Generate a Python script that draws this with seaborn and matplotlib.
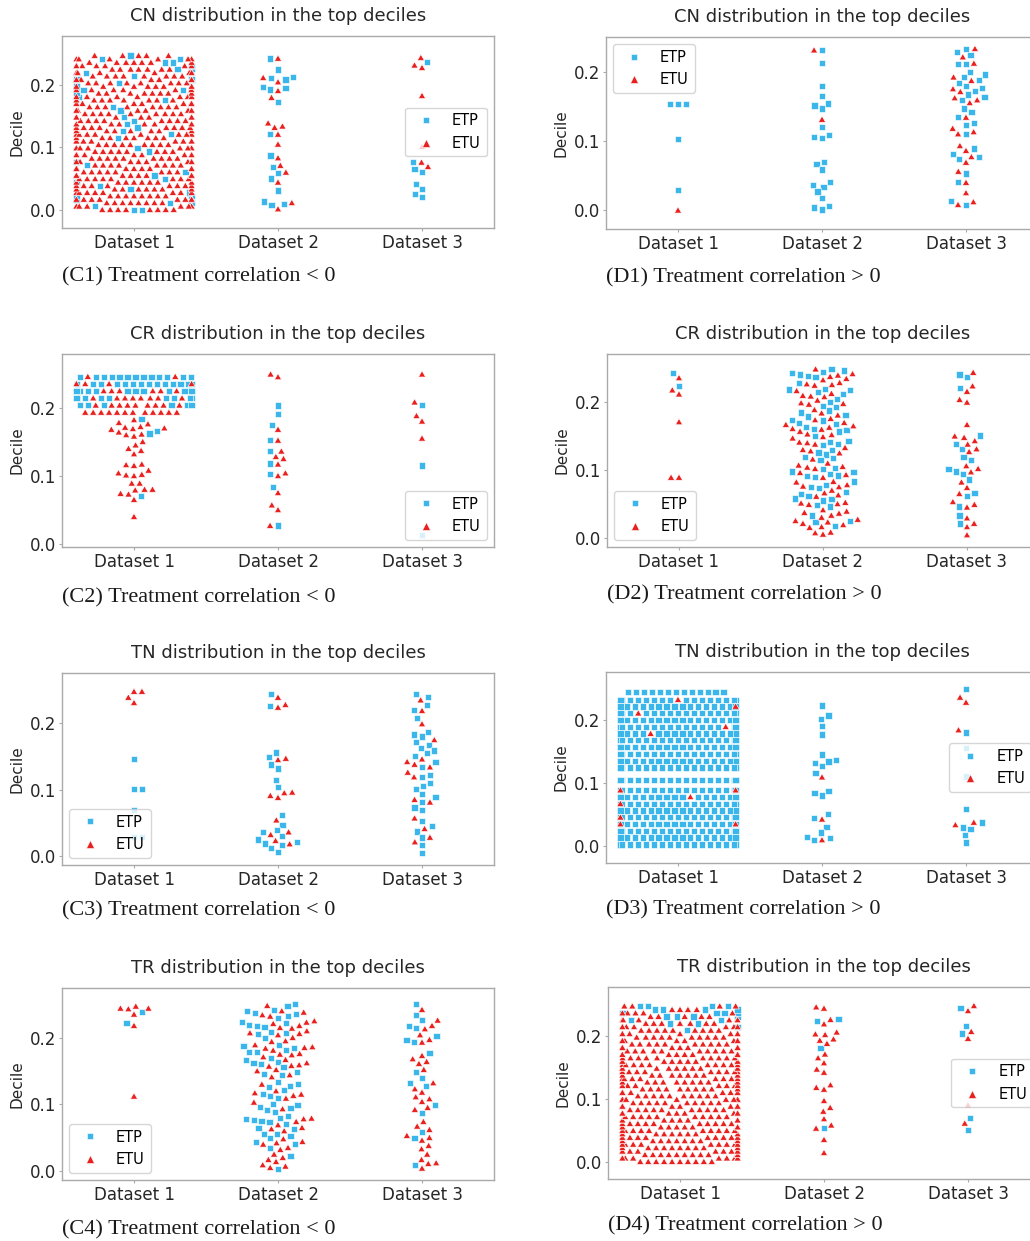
import warnings

import numpy as np
import pandas as pd
import matplotlib
matplotlib.use("Agg")
import matplotlib.pyplot as plt
from matplotlib.path import Path
from matplotlib.lines import Line2D
import seaborn as sns

warnings.filterwarnings("ignore")  # swarm overflow warnings for the dense groups

W, H = 1030, 1241
ETP_COLOR = "#3bb6ea"
ETU_COLOR = "#e8201e"
SPINE = "#a9a9a9"
TEXT = "#262626"
DATASETS = ["Dataset 1", "Dataset 2", "Dataset 3"]
TYPES = ["ETP", "ETU"]

# ---------------------------------------------------------------- data
# dense swarms are read as rows of points (level + count per row)
fine_levels = [0.0, 0.0055, 0.011, 0.0165, 0.022, 0.0275, 0.033, 0.0385, 0.044, 0.0495, 0.055,
               0.0605, 0.066, 0.0715, 0.077, 0.0825, 0.088, 0.0935, 0.099, 0.1045, 0.11, 0.1155,
               0.121, 0.1265, 0.132, 0.1375, 0.143, 0.1485, 0.154, 0.1595, 0.165, 0.1705, 0.176,
               0.1815, 0.187, 0.1925, 0.198, 0.2035, 0.209, 0.2145, 0.22, 0.2255, 0.231, 0.2365,
               0.242, 0.2475]

# (C1) CN, treatment correlation < 0
c1_ds1_etp_counts = [2, 1, 2, 1, 2, 1, 1, 1, 1, 1, 1, 1, 0, 1, 1, 0, 0, 1, 1, 0, 0, 1, 1, 1, 1,
                     1, 1, 1, 0, 1, 1, 0, 1, 1, 1, 2, 1, 1, 2, 1, 1, 2, 1, 2, 2, 1]
c1_ds1_etu_counts = [8, 8, 8, 8, 8, 8, 8, 8, 8, 8, 8, 8, 9, 8, 8, 9, 9, 8, 8, 9, 9, 8, 8, 8, 8,
                     8, 8, 8, 9, 8, 8, 9, 8, 8, 8, 7, 8, 8, 7, 8, 8, 7, 7, 7, 6, 5]
c1_ds2_etp = [0.243, 0.225, 0.209, 0.211, 0.213, 0.197, 0.193, 0.195, 0.173, 0.122, 0.087, 0.068,
              0.059, 0.050, 0.031, 0.013, 0.008, 0.009]
c1_ds2_etu = [0.243, 0.212, 0.205, 0.191, 0.180, 0.139, 0.132, 0.134, 0.121, 0.105, 0.083, 0.071,
              0.060, 0.044, 0.011, 0.001]
c1_ds3_etp = [0.237, 0.077, 0.065, 0.061, 0.041, 0.033, 0.025, 0.020]
c1_ds3_etu = [0.244, 0.232, 0.228, 0.183, 0.101, 0.076, 0.069]

# (D1) CN, treatment correlation > 0
d1_ds1_etp = [0.153, 0.153, 0.153, 0.103, 0.029]
d1_ds1_etu = [0.000]
d1_ds2_etp = [0.231, 0.213, 0.179, 0.165, 0.151, 0.147, 0.154, 0.120, 0.106, 0.104, 0.109, 0.070,
              0.067, 0.059, 0.041, 0.034, 0.027, 0.036, 0.018, 0.004, 0.001, 0.006]
d1_ds2_etu = [0.231, 0.131]
d1_ds3_etp = [0.233, 0.228, 0.224, 0.211, 0.211, 0.200, 0.196, 0.192, 0.184, 0.188, 0.179, 0.176,
              0.172, 0.167, 0.163, 0.159, 0.147, 0.142, 0.135, 0.126, 0.123, 0.110, 0.089, 0.081,
              0.077, 0.074, 0.053, 0.041, 0.013, 0.008]
d1_ds3_etu = [0.233, 0.221, 0.212, 0.192, 0.187, 0.175, 0.171, 0.162, 0.159, 0.155, 0.134, 0.118,
              0.113, 0.110, 0.093, 0.086, 0.077, 0.069, 0.056, 0.040, 0.025, 0.012, 0.008]

# (C2) CR, treatment correlation < 0
c2_band_levels = [0.193, 0.2035, 0.214, 0.2245, 0.235, 0.2455]
c2_ds1_etp_counts = [0, 6, 9, 12, 14, 13]
c2_ds1_etu_counts = [12, 9, 8, 6, 4, 2]
c2_ds1_etp_tail = [0.183, 0.166, 0.162, 0.070]
c2_ds1_etu_tail = [0.182, 0.178, 0.176, 0.171, 0.168, 0.170, 0.169, 0.172, 0.160, 0.158, 0.161, 0.164,
                   0.145, 0.150, 0.137, 0.140, 0.132, 0.115, 0.117, 0.116, 0.108, 0.104, 0.100, 0.101,
                   0.102, 0.089, 0.089, 0.080, 0.079, 0.080, 0.074, 0.073, 0.065, 0.040]
c2_ds2_etp = [0.203, 0.191, 0.175, 0.153, 0.136, 0.118, 0.103, 0.084, 0.027]
c2_ds2_etu = [0.249, 0.245, 0.168, 0.152, 0.136, 0.128, 0.125, 0.117, 0.104, 0.100, 0.075, 0.057,
              0.050, 0.027]
c2_ds3_etp = [0.204, 0.115, 0.013]
c2_ds3_etu = [0.249, 0.208, 0.188, 0.180, 0.155]

# (D2) CR, treatment correlation > 0
d2_ds1_etp = [0.243, 0.224]
d2_ds1_etu = [0.236, 0.218, 0.212, 0.171, 0.089, 0.089]
d2_ds2_etp = [0.247, 0.245, 0.249, 0.239, 0.241, 0.237, 0.243, 0.229, 0.212, 0.218, 0.220, 0.215,
              0.219, 0.200, 0.195, 0.205, 0.193, 0.188, 0.185, 0.181, 0.174, 0.173, 0.170, 0.179,
              0.168, 0.164, 0.161, 0.157, 0.159, 0.150, 0.143, 0.138, 0.141, 0.137, 0.130, 0.123,
              0.118, 0.126, 0.119, 0.115, 0.103, 0.098, 0.101, 0.097, 0.094, 0.092, 0.091, 0.090,
              0.083, 0.075, 0.074, 0.078, 0.067, 0.065, 0.055, 0.062, 0.058, 0.057, 0.046, 0.048,
              0.033, 0.025, 0.023, 0.017]
d2_ds2_etu = [0.242, 0.249, 0.240, 0.238, 0.235, 0.233, 0.226, 0.229, 0.225, 0.217, 0.213, 0.210,
              0.227, 0.209, 0.208, 0.197, 0.199, 0.198, 0.203, 0.184, 0.176, 0.170, 0.174, 0.189,
              0.181, 0.161, 0.160, 0.163, 0.167, 0.165, 0.157, 0.152, 0.147, 0.149, 0.141, 0.138,
              0.140, 0.153, 0.133, 0.128, 0.130, 0.125, 0.116, 0.107, 0.110, 0.104, 0.105, 0.102,
              0.096, 0.093, 0.089, 0.078, 0.083, 0.082, 0.075, 0.070, 0.076, 0.061, 0.066, 0.063,
              0.052, 0.051, 0.049, 0.050, 0.041, 0.039, 0.037, 0.033, 0.036, 0.019, 0.025, 0.021,
              0.027, 0.023, 0.030, 0.015, 0.016, 0.005, 0.007, 0.008]
d2_ds3_etp = [0.241, 0.237, 0.221, 0.151, 0.139, 0.131, 0.115, 0.119, 0.102, 0.094, 0.098, 0.086,
              0.066, 0.062, 0.046, 0.033, 0.021]
d2_ds3_etu = [0.244, 0.224, 0.216, 0.204, 0.200, 0.167, 0.148, 0.150, 0.138, 0.143, 0.131, 0.127,
              0.106, 0.102, 0.097, 0.082, 0.074, 0.065, 0.053, 0.049, 0.045, 0.029, 0.021, 0.016,
              0.004]

# (C3) TN, treatment correlation < 0
c3_ds1_etp = [0.146, 0.101, 0.101, 0.069, 0.029, 0.029]
c3_ds1_etu = [0.248, 0.248, 0.239, 0.231]
c3_ds2_etp = [0.244, 0.226, 0.156, 0.149, 0.138, 0.132, 0.115, 0.104, 0.062, 0.047, 0.039, 0.036,
              0.030, 0.025, 0.019, 0.021, 0.016, 0.012, 0.006]
c3_ds2_etu = [0.239, 0.224, 0.228, 0.147, 0.145, 0.096, 0.091, 0.088, 0.095, 0.054, 0.036, 0.032,
              0.023, 0.018]
c3_ds3_etp = [0.240, 0.244, 0.228, 0.220, 0.208, 0.187, 0.183, 0.180, 0.172, 0.167, 0.163, 0.159,
              0.155, 0.151, 0.142, 0.134, 0.122, 0.119, 0.110, 0.106, 0.101, 0.094, 0.089, 0.081,
              0.073, 0.069, 0.053, 0.045, 0.037, 0.028, 0.016, 0.004]
c3_ds3_etu = [0.235, 0.219, 0.199, 0.175, 0.146, 0.142, 0.138, 0.134, 0.126, 0.119, 0.085, 0.081,
              0.057, 0.041, 0.028, 0.021]

# (D3) TN, treatment correlation > 0
d3_levels = [0.002, 0.0128, 0.0236, 0.0344, 0.0452, 0.056, 0.0668, 0.0776, 0.0884, 0.1046, 0.1244,
             0.1352, 0.146, 0.1568, 0.1676, 0.1784, 0.1892, 0.200, 0.2108, 0.2216, 0.2324, 0.244]
d3_ds1_etp_counts = [18, 18, 18, 17, 18, 18, 18, 17, 17, 20, 18, 18, 18, 18, 18, 17, 17, 18, 17,
                     17, 16, 13]
d3_ds1_etu = [0.2324, 0.2216, 0.2108, 0.1892, 0.1784, 0.0884, 0.0884, 0.0776, 0.0668, 0.0452,
              0.0344, 0.0344]
d3_ds2_etp = [0.223, 0.207, 0.202, 0.190, 0.177, 0.145, 0.132, 0.134, 0.136, 0.127, 0.116, 0.084,
              0.087, 0.080, 0.050, 0.044, 0.030, 0.021, 0.014, 0.009, 0.012]
d3_ds2_etu = [0.109, 0.042, 0.009]
d3_ds3_etp = [0.249, 0.180, 0.156, 0.110, 0.058, 0.037, 0.026, 0.029, 0.017, 0.005]
d3_ds3_etu = [0.236, 0.228, 0.184, 0.033, 0.037]

# (C4) TR, treatment correlation < 0
c4_ds1_etp = [0.238, 0.222]
c4_ds1_etu = [0.244, 0.247, 0.243, 0.244, 0.235, 0.218, 0.112]
c4_ds2_etp = [0.250, 0.248, 0.240, 0.242, 0.237, 0.233, 0.230, 0.235, 0.224, 0.216, 0.217, 0.219,
              0.222, 0.200, 0.205, 0.207, 0.209, 0.187, 0.182, 0.179, 0.189, 0.185, 0.178, 0.169,
              0.166, 0.160, 0.164, 0.162, 0.156, 0.148, 0.145, 0.144, 0.134, 0.128, 0.121, 0.126,
              0.130, 0.115, 0.109, 0.112, 0.099, 0.100, 0.094, 0.096, 0.089, 0.091, 0.080, 0.078,
              0.071, 0.074, 0.075, 0.077, 0.083, 0.064, 0.063, 0.053, 0.056, 0.055, 0.049, 0.044,
              0.041, 0.035, 0.023, 0.003]
c4_ds2_etu = [0.248, 0.240, 0.234, 0.232, 0.238, 0.223, 0.218, 0.221, 0.225, 0.215, 0.214, 0.207,
              0.206, 0.204, 0.210, 0.195, 0.200, 0.194, 0.189, 0.186, 0.184, 0.185, 0.181, 0.175,
              0.174, 0.176, 0.171, 0.167, 0.159, 0.157, 0.158, 0.162, 0.150, 0.152, 0.144, 0.141,
              0.130, 0.120, 0.117, 0.115, 0.113, 0.109, 0.103, 0.093, 0.078, 0.079, 0.074, 0.069,
              0.060, 0.065, 0.063, 0.044, 0.042, 0.048, 0.040, 0.035, 0.032, 0.025, 0.020, 0.017,
              0.014, 0.009, 0.005, 0.007]
c4_ds3_etp = [0.250, 0.234, 0.226, 0.218, 0.214, 0.202, 0.197, 0.193, 0.177, 0.148, 0.140, 0.132,
              0.128, 0.099, 0.087, 0.058, 0.050, 0.009]
c4_ds3_etu = [0.242, 0.226, 0.218, 0.213, 0.204, 0.197, 0.193, 0.173, 0.168, 0.164, 0.161, 0.152,
              0.132, 0.123, 0.118, 0.111, 0.108, 0.104, 0.095, 0.092, 0.074, 0.067, 0.062, 0.053,
              0.050, 0.046, 0.038, 0.033, 0.025, 0.017, 0.012, 0.011, 0.004]

# (D4) TR, treatment correlation > 0
d4_ds1_etp_counts = [0, 0, 0, 0, 0, 0, 0, 0, 0, 0, 0, 0, 0, 0, 0, 0, 0, 0, 0, 0, 0, 0, 0, 0, 0,
                     0, 0, 0, 0, 0, 0, 0, 0, 0, 0, 0, 0, 0, 1, 1, 2, 2, 4, 4, 4, 4]
d4_ds1_etu_counts = [10, 10, 10, 10, 10, 10, 10, 10, 10, 10, 10, 10, 10, 10, 10, 10, 10, 10, 10,
                     10, 10, 10, 10, 10, 10, 10, 10, 10, 10, 10, 10, 10, 10, 10, 10, 10, 10, 10,
                     9, 8, 7, 7, 5, 5, 4, 4]
d4_ds2_etp = [0.224, 0.227, 0.181, 0.053]
d4_ds2_etu = [0.246, 0.244, 0.226, 0.219, 0.206, 0.202, 0.203, 0.195, 0.193, 0.188, 0.171, 0.165,
              0.157, 0.147, 0.142, 0.122, 0.118, 0.115, 0.097, 0.086, 0.080, 0.068, 0.053, 0.058,
              0.035, 0.014]
d4_ds3_etp = [0.244, 0.216, 0.204, 0.070, 0.050]
d4_ds3_etu = [0.240, 0.248, 0.207, 0.196, 0.090, 0.061]


def rows_of(levels, counts):
    return list(np.repeat(levels, counts))


def make_frame(groups):
    recs = []
    for ds, etp, etu in zip(DATASETS, groups[0::2], groups[1::2]):
        recs += [(ds, "ETP", v) for v in etp]
        recs += [(ds, "ETU", v) for v in etu]
    return pd.DataFrame(recs, columns=["dataset", "type", "decile"])


# marker shapes (path units are scaled by the swarm marker size)
SQUARE = Path([(-0.45, -0.45), (0.45, -0.45), (0.45, 0.45), (-0.45, 0.45), (-0.45, -0.45)],
              [Path.MOVETO, Path.LINETO, Path.LINETO, Path.LINETO, Path.CLOSEPOLY])
TRIANGLE = Path([(0.0, 0.50), (-0.52, -0.40), (0.52, -0.40), (0.0, 0.50)],
                [Path.MOVETO, Path.LINETO, Path.LINETO, Path.CLOSEPOLY])

fig = plt.figure(figsize=(W / 100, H / 100), dpi=100)


def draw_panel(left, top, bottom, title, caption, cap_y, groups, ylim, loc):
    width = 432
    ax = fig.add_axes([left / W, 1 - bottom / H, width / W, (bottom - top) / H])
    df = make_frame(groups)
    sns.swarmplot(data=df, x="dataset", y="decile", hue="type", order=DATASETS, hue_order=TYPES,
                  palette={"ETP": ETP_COLOR, "ETU": ETU_COLOR}, size=5, linewidth=0.45,
                  edgecolor="white", legend=False, ax=ax)
    # swap the round markers for squares (ETP) and triangles (ETU)
    for coll in ax.collections:
        fc = coll.get_facecolors()
        coll.set_paths([TRIANGLE if c[0] > 0.6 else SQUARE for c in fc])

    ax.set_ylim(*ylim)
    ax.set_yticks([0.0, 0.1, 0.2])
    ax.set_yticklabels(["0.0", "0.1", "0.2"])
    ax.set_xlabel("")
    ax.set_ylabel("Decile", fontsize=11, color=TEXT, labelpad=4)
    ax.set_title(title, fontsize=13, color=TEXT, pad=10.5)
    ax.tick_params(colors=SPINE, labelcolor=TEXT, labelsize=12, length=2.5, width=0.8, pad=1.8)
    for sp in ax.spines.values():
        sp.set_color(SPINE)
        sp.set_linewidth(1.0)

    handles = [Line2D([], [], marker="s", linestyle="", color=ETP_COLOR, markersize=4.8,
                      markeredgecolor="white", markeredgewidth=0.4),
               Line2D([], [], marker="^", linestyle="", color=ETU_COLOR, markersize=5.8,
                      markeredgecolor="white", markeredgewidth=0.4)]
    ax.legend(handles, TYPES, loc=loc, fontsize=10.5)

    fig.text(left / W, 1 - cap_y / H, caption, ha="left", va="center", fontsize=16,
             family="Liberation Serif", color="#1a1a1a")


draw_panel(62, 36, 228, "CN distribution in the top deciles", "(C1) Treatment correlation < 0", 277,
           [rows_of(fine_levels, c1_ds1_etp_counts), rows_of(fine_levels, c1_ds1_etu_counts),
            c1_ds2_etp, c1_ds2_etu, c1_ds3_etp, c1_ds3_etu],
           (-0.0294, 0.279), "center right")
draw_panel(606, 37, 229, "CN distribution in the top deciles", "(D1) Treatment correlation > 0", 278,
           [d1_ds1_etp, d1_ds1_etu, d1_ds2_etp, d1_ds2_etu, d1_ds3_etp, d1_ds3_etu],
           (-0.027, 0.250), "upper left")
draw_panel(62, 354, 547, "CR distribution in the top deciles", "(C2) Treatment correlation < 0", 598,
           [rows_of(c2_band_levels, c2_ds1_etp_counts) + c2_ds1_etp_tail,
            rows_of(c2_band_levels, c2_ds1_etu_counts) + c2_ds1_etu_tail,
            c2_ds2_etp, c2_ds2_etu, c2_ds3_etp, c2_ds3_etu],
           (-0.0044, 0.2787), "lower right")
draw_panel(607, 354, 547, "CR distribution in the top deciles", "(D2) Treatment correlation > 0", 595,
           [d2_ds1_etp, d2_ds1_etu, d2_ds2_etp, d2_ds2_etu, d2_ds3_etp, d2_ds3_etu],
           (-0.0137, 0.2714), "lower left")
draw_panel(62, 673, 865, "TN distribution in the top deciles", "(C3) Treatment correlation < 0", 911,
           [c3_ds1_etp, c3_ds1_etu, c3_ds2_etp, c3_ds2_etu, c3_ds3_etp, c3_ds3_etu],
           (-0.0136, 0.2759), "lower left")
draw_panel(606, 672, 863, "TN distribution in the top deciles", "(D3) Treatment correlation > 0", 910,
           [rows_of(d3_levels, d3_ds1_etp_counts), d3_ds1_etu,
            d3_ds2_etp, d3_ds2_etu, d3_ds3_etp, d3_ds3_etu],
           (-0.0276, 0.2764), "center right")
draw_panel(62, 988, 1180, "TR distribution in the top deciles", "(C4) Treatment correlation < 0", 1230,
           [c4_ds1_etp, c4_ds1_etu, c4_ds2_etp, c4_ds2_etu, c4_ds3_etp, c4_ds3_etu],
           (-0.0135, 0.2745), "lower left")
draw_panel(608, 987, 1179, "TR distribution in the top deciles", "(D4) Treatment correlation > 0", 1226,
           [rows_of(fine_levels, d4_ds1_etp_counts), rows_of(fine_levels, d4_ds1_etu_counts),
            d4_ds2_etp, d4_ds2_etu, d4_ds3_etp, d4_ds3_etu],
           (-0.0276, 0.278), "center right")

fig.savefig("out.png", dpi=100)
